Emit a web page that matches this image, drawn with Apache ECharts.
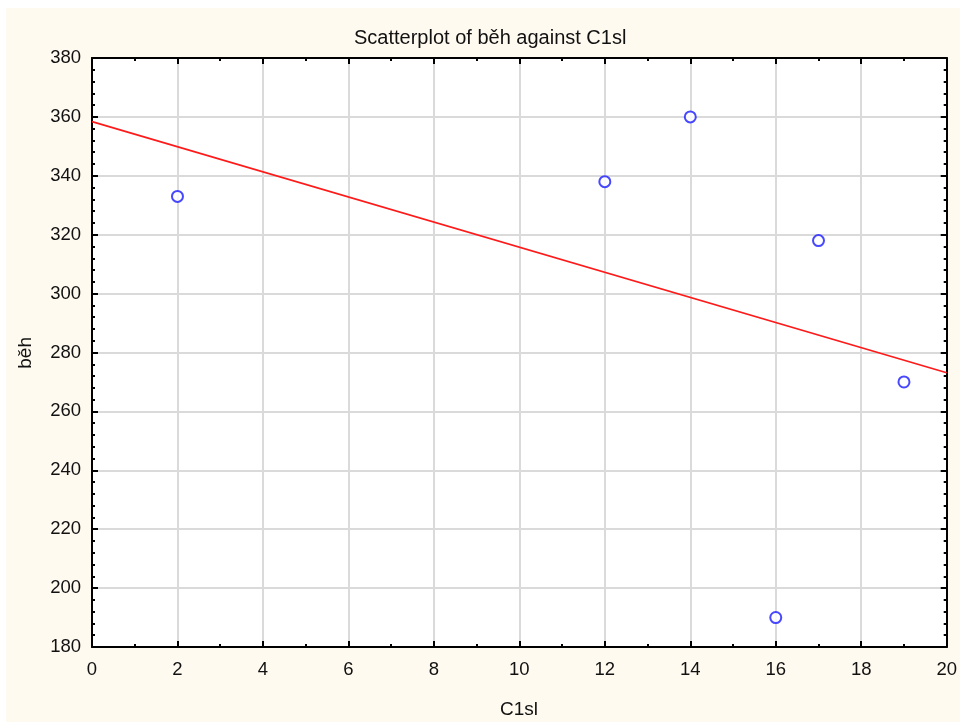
<!DOCTYPE html>
<html>
<head>
<meta charset="utf-8">
<script src="https://cdn.jsdelivr.net/npm/echarts@6/dist/echarts.min.js"></script>
<style>
html,body{margin:0;padding:0;background:#fff;}
#chart{width:960px;height:722px;}
</style>
</head>
<body>
<div id="chart"></div>
<script>
// Data
const xValues = [2, 12, 14, 16, 17, 19];
const yValues = [333, 338, 360, 190, 318, 270];
const fitLineX = [0, 20];
const fitLineY = [358.4, 273.1];
const titleText = 'Scatterplot of běh against C1sl';
const xName = 'C1sl';
const yName = 'běh';

const points = xValues.map((x, i) => [x, yValues[i]]);
const fitLine = fitLineX.map((x, i) => [x, fitLineY[i]]);

const FONT = '"Liberation Sans", Arial, sans-serif';
const gridColor = '#dadada';
const textColor = '#111';

function xAxisCfg(pos, showLabels) {
  return {
    type: 'value', position: pos, min: 0, max: 20, interval: 2,
    axisLine: { show: true, onZero: false, lineStyle: { color: '#000', width: 2 } },
    axisTick: { show: true, inside: true, length: 6, lineStyle: { color: '#000', width: 2 } },
    minorTick: { show: true, splitNumber: 2, length: 3, lineStyle: { color: '#000', width: 2 } },
    axisLabel: { show: showLabels, margin: 13, fontSize: 18.5, color: textColor, fontFamily: FONT },
    splitLine: { show: showLabels, lineStyle: { color: gridColor, width: 2 } }
  };
}
function yAxisCfg(pos, showLabels) {
  return {
    type: 'value', position: pos, min: 180, max: 380, interval: 20,
    axisLine: { show: true, onZero: false, lineStyle: { color: '#000', width: 2 } },
    axisTick: { show: true, inside: true, length: 6, lineStyle: { color: '#000', width: 2 } },
    minorTick: { show: true, splitNumber: 5, length: 3, lineStyle: { color: '#000', width: 2 } },
    axisLabel: { show: showLabels, margin: 11, fontSize: 18.5, color: textColor, fontFamily: FONT },
    splitLine: { show: showLabels, lineStyle: { color: gridColor, width: 2 } }
  };
}

const chart = echarts.init(document.getElementById('chart'), null, { renderer: 'canvas' });
chart.setOption({
  backgroundColor: '#fff',
  animation: false,
  title: {
    text: titleText, left: 349, top: 23,
    textStyle: { fontSize: 20, fontWeight: 'normal', color: textColor, fontFamily: FONT }
  },
  grid: { left: 92, top: 58, right: 13, bottom: 75, show: true, backgroundColor: '#fff', borderWidth: 0 },
  xAxis: [xAxisCfg('bottom', true), xAxisCfg('top', false)],
  yAxis: [yAxisCfg('left', true), yAxisCfg('right', false)],
  graphic: [
    { type: 'rect', z: -10, silent: true, shape: { x: 6, y: 8, width: 954, height: 714 }, style: { fill: '#fffaf0' } },
    { type: 'text', left: 500, top: 700, style: { text: xName, fontSize: 19, fill: textColor, fontFamily: FONT } },
    { type: 'text', left: 16, top: 337, rotation: Math.PI / 2, style: { text: yName, fontSize: 19, fill: textColor, fontFamily: FONT } }
  ],
  series: [
    {
      type: 'line', data: fitLine, xAxisIndex: 0, yAxisIndex: 0,
      showSymbol: false, symbol: 'none',
      lineStyle: { color: '#ff1a1a', width: 1.6 }, z: 3
    },
    {
      type: 'scatter', data: points, xAxisIndex: 0, yAxisIndex: 0,
      symbol: 'emptyCircle', symbolSize: 11,
      itemStyle: { color: '#1a1aff', borderColor: '#1a1aff', borderWidth: 1.9 }, z: 4
    }
  ]
});
</script>
</body>
</html>
